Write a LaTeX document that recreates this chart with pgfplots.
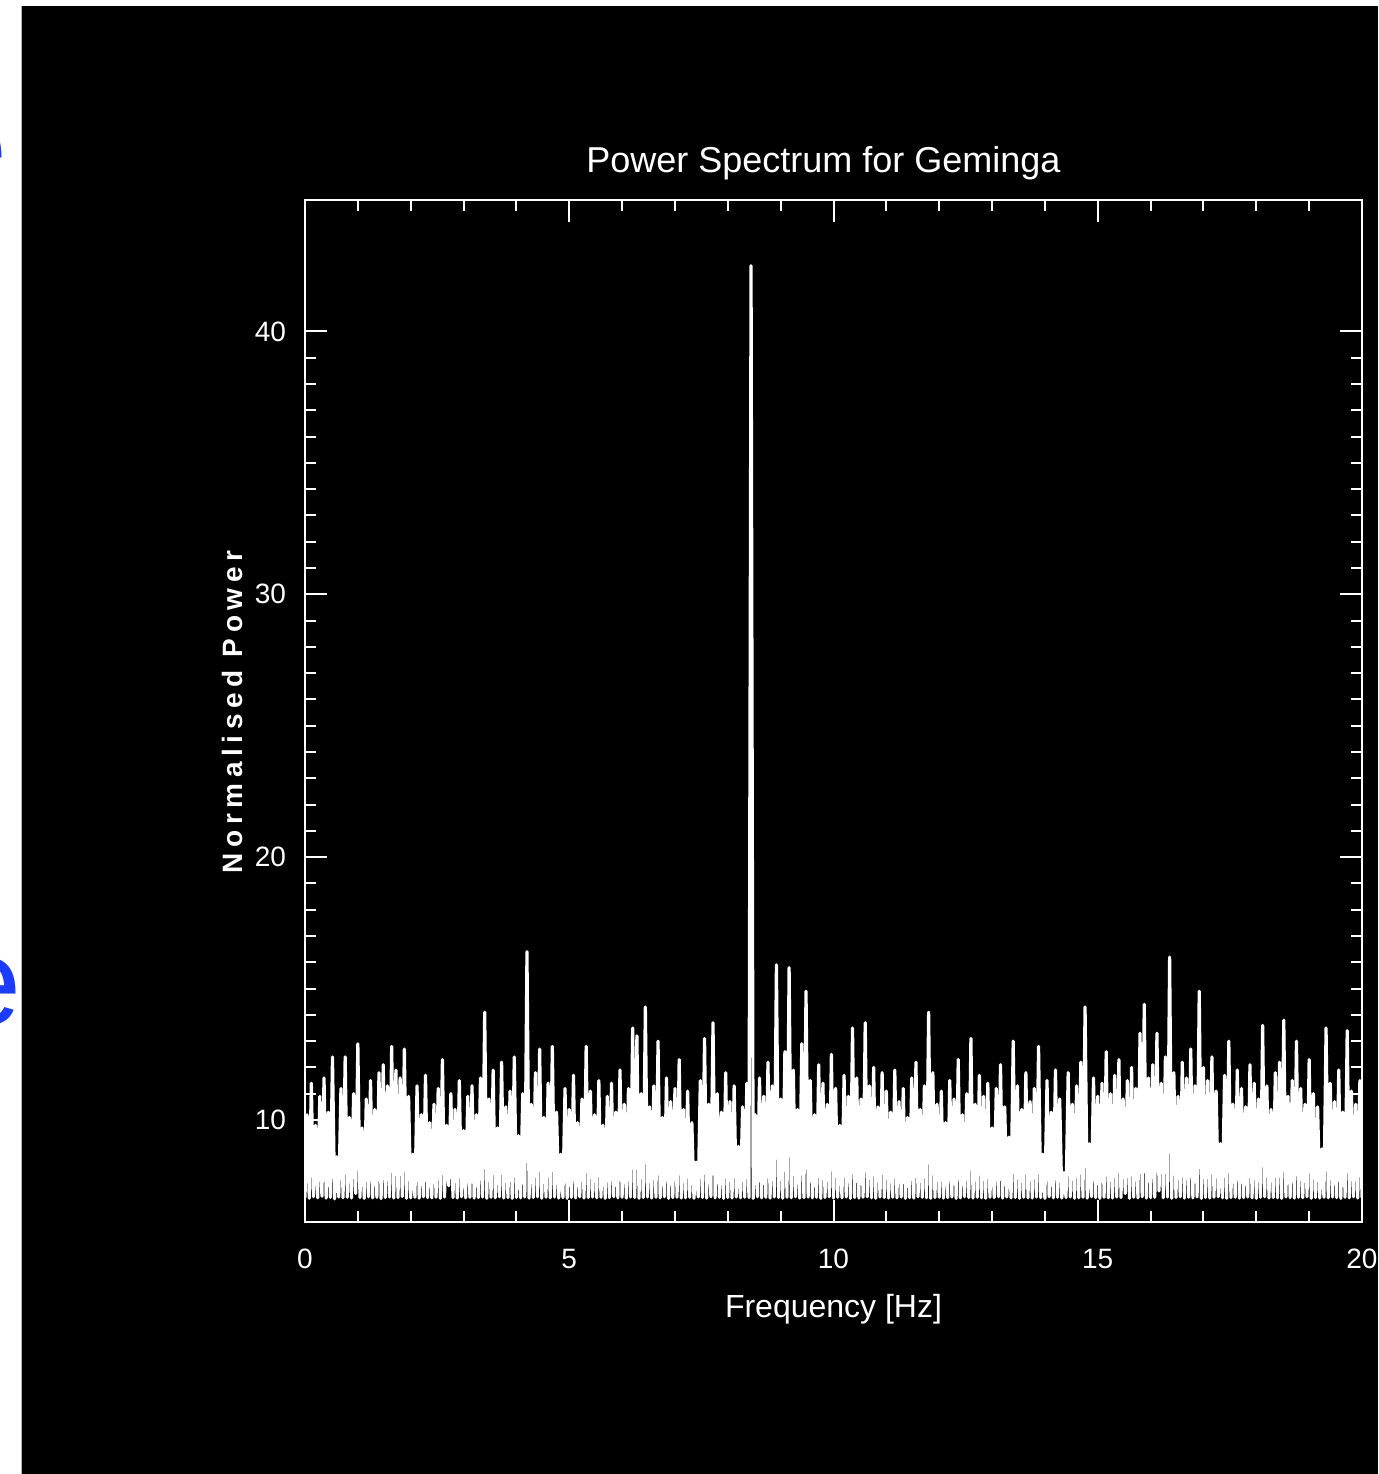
\documentclass[border=0pt]{standalone}
\usepackage{pgfplots}
\usepackage{pgfplotstable}
\pgfplotsset{compat=1.18}
\usepackage{fontspec}
\setmainfont{Liberation Sans}
\definecolor{eblue}{RGB}{26,60,255}
\pgfplotstableread[row sep=\\]{
y\\
7.05\\10.2\\7.02\\11.4\\7.08\\9.8\\7.04\\10.9\\7.1\\11.6\\7.03\\10.3\\7.06\\12.4\\7.0\\8.6\\7.07\\11.2\\7.04\\12.4\\
7.06\\10.1\\7.03\\11.0\\7.2\\12.9\\7.05\\9.7\\7.02\\10.8\\7.08\\11.5\\7.04\\10.4\\7.06\\11.8\\7.01\\12.1\\7.05\\11.3\\
7.07\\12.8\\7.03\\11.9\\7.05\\11.6\\7.09\\12.7\\7.02\\10.9\\7.04\\8.7\\7.06\\11.3\\7.03\\10.2\\7.08\\11.7\\7.05\\9.9\\
7.04\\10.6\\7.06\\11.2\\7.02\\12.3\\7.07\\9.8\\7.5\\11.0\\7.05\\10.4\\7.03\\11.5\\7.08\\9.6\\7.04\\10.9\\7.06\\11.3\\
7.03\\10.2\\7.05\\11.6\\7.07\\14.1\\7.02\\10.8\\7.06\\11.9\\7.04\\9.7\\7.08\\12.2\\7.03\\10.5\\7.05\\11.1\\7.02\\12.4\\
7.06\\9.4\\7.04\\11.0\\7.07\\16.4\\7.03\\10.6\\7.05\\11.8\\7.08\\12.7\\7.02\\10.1\\7.06\\11.4\\7.04\\12.8\\7.07\\10.3\\
7.03\\8.7\\7.05\\11.2\\7.02\\10.4\\7.06\\11.7\\7.04\\9.9\\7.08\\10.8\\7.03\\12.8\\7.05\\11.1\\7.07\\10.2\\7.04\\11.5\\
7.06\\9.8\\7.02\\10.9\\7.05\\11.4\\7.08\\10.3\\7.04\\11.9\\7.06\\10.6\\7.03\\11.2\\7.07\\13.5\\7.05\\13.2\\7.02\\11.0\\
7.05\\14.3\\7.07\\10.5\\7.03\\11.3\\7.06\\13.0\\7.04\\10.1\\7.08\\11.6\\7.02\\10.7\\7.05\\11.2\\7.06\\12.3\\7.03\\10.4\\
7.04\\11.1\\7.06\\9.9\\7.02\\8.4\\7.07\\11.5\\7.05\\13.1\\7.03\\10.6\\7.08\\13.7\\7.04\\11.0\\7.06\\10.3\\7.02\\11.8\\
7.05\\10.7\\7.03\\11.3\\7.07\\9.0\\7.04\\10.5\\7.06\\11.4\\7.05\\42.5\\7.02\\10.2\\7.08\\11.6\\7.04\\10.9\\7.06\\12.2\\
7.03\\11.3\\7.07\\15.9\\7.05\\10.8\\7.02\\12.6\\7.06\\15.8\\7.04\\11.9\\7.08\\10.4\\7.03\\12.9\\7.05\\14.9\\7.07\\11.5\\
7.04\\10.2\\7.06\\12.1\\7.02\\11.4\\7.05\\10.6\\7.08\\12.5\\7.03\\11.2\\7.06\\9.8\\7.04\\11.7\\7.07\\10.9\\7.02\\13.5\\
7.05\\11.6\\7.03\\10.8\\7.06\\13.7\\7.08\\11.3\\7.04\\12.0\\7.02\\10.5\\7.07\\11.8\\7.05\\11.1\\7.03\\10.3\\7.06\\11.9\\
7.04\\10.7\\7.07\\11.2\\7.02\\10.1\\7.05\\11.6\\7.03\\12.2\\7.08\\10.4\\7.06\\11.3\\7.04\\14.1\\7.02\\11.8\\7.05\\10.6\\
7.06\\11.1\\7.03\\9.9\\7.05\\11.5\\7.07\\10.8\\7.02\\12.3\\7.04\\10.2\\7.08\\11.0\\7.05\\13.1\\7.03\\10.6\\7.06\\11.7\\
7.04\\10.9\\7.02\\11.4\\7.06\\9.7\\7.05\\11.2\\7.08\\12.1\\7.03\\10.5\\7.07\\9.35\\7.04\\13.0\\7.05\\11.3\\7.02\\10.4\\
7.06\\11.8\\7.04\\10.7\\7.03\\11.2\\7.07\\12.8\\7.05\\8.7\\7.02\\11.5\\7.08\\10.3\\7.04\\11.9\\7.06\\10.8\\7.03\\8.0\\
7.05\\11.8\\7.07\\10.6\\7.02\\11.3\\7.04\\12.2\\7.06\\14.3\\7.03\\9.1\\7.08\\11.6\\7.05\\10.9\\7.02\\11.4\\7.06\\12.6\\
7.04\\11.0\\7.03\\11.7\\7.07\\12.3\\7.05\\10.8\\7.2\\11.5\\7.02\\12.0\\7.06\\11.2\\7.04\\13.3\\7.08\\14.4\\7.03\\11.6\\
7.05\\12.1\\7.06\\13.3\\7.3\\11.4\\7.04\\12.4\\7.07\\16.2\\7.02\\11.8\\7.05\\10.9\\7.08\\12.2\\7.03\\11.6\\7.06\\12.7\\
7.04\\11.3\\7.07\\14.9\\7.02\\12.0\\7.05\\11.5\\7.03\\12.4\\7.06\\11.1\\7.08\\9.1\\7.04\\11.7\\7.02\\13.0\\7.05\\10.6\\
7.06\\11.9\\7.03\\11.2\\7.05\\10.5\\7.07\\12.1\\7.04\\11.4\\7.02\\10.8\\7.06\\13.6\\7.08\\11.3\\7.03\\10.4\\7.05\\11.8\\
7.04\\12.2\\7.02\\13.8\\7.07\\10.9\\7.05\\11.5\\7.03\\13.0\\7.06\\11.2\\7.04\\10.6\\7.08\\12.3\\7.02\\11.0\\7.05\\10.5\\
7.03\\8.9\\7.06\\13.5\\7.04\\11.4\\7.07\\10.7\\7.05\\11.9\\7.02\\10.3\\7.06\\13.4\\7.04\\11.1\\7.08\\10.6\\7.03\\11.5\\
7.05\\
}\spectrum
\begin{document}
\begin{tikzpicture}
\useasboundingbox (0pt,0pt) rectangle (689pt,737pt);
\fill[white] (0pt,0pt) rectangle (689pt,737pt);
\node[anchor=base east, inner sep=0pt, text=eblue, font=\fontsize{62}{62}\selectfont] at (11pt,224.5pt) {e};
\node[anchor=base east, inner sep=0pt, text=eblue, font=\fontsize{62}{62}\selectfont] at (4pt,642.5pt) {e};
\fill[black] (10.5pt,0pt) rectangle (689pt,734pt);
\draw[gray!60, line width=0.5pt] (10.5pt,0pt) -- (10.5pt,734pt);
\begin{axis}[
  at={(152.5pt,126pt)}, anchor=south west,
  scale only axis, width=528.5pt, height=511pt,
  xmin=0, xmax=20, ymin=6.12, ymax=45,
  xtick={0,5,10,15,20}, ytick={10,20,30,40},
  minor x tick num=4, minor y tick num=9,
  major tick length=11pt, minor tick length=5.5pt,
  axis line style={white, line width=1pt},
  every major tick/.append style={white, line width=1pt},
  every minor tick/.append style={white, line width=1pt},
  tick label style={text=white, font=\fontsize{14}{14}\selectfont},
  /pgf/number format/assume math mode=true,
  yticklabel style={xshift=-6pt},
  xticklabel style={yshift=-10pt},
  title={Power Spectrum for Geminga},
  title style={at={(axis description cs:0.4905,1)}, anchor=base, yshift=7.5pt, text=white, font=\fontsize{18}{18}\selectfont},
  xlabel={Frequency [Hz]},
  xlabel style={at={(axis description cs:0.5,0)}, anchor=base, yshift=-48pt, text=white, font=\fontsize{16}{16}\selectfont},
  ylabel={Normalised Power},
  ylabel style={at={(axis description cs:-0.0596,0.499)}, anchor=base, text=white, font=\bfseries\fontsize{14}{14}\selectfont\addfontfeature{LetterSpace=20}},
]
\addplot[white, line width=1.6pt, line join=round, mark=none] table[x expr=\coordindex*0.04, y=y] {\spectrum};
\end{axis}
\end{tikzpicture}
\end{document}
